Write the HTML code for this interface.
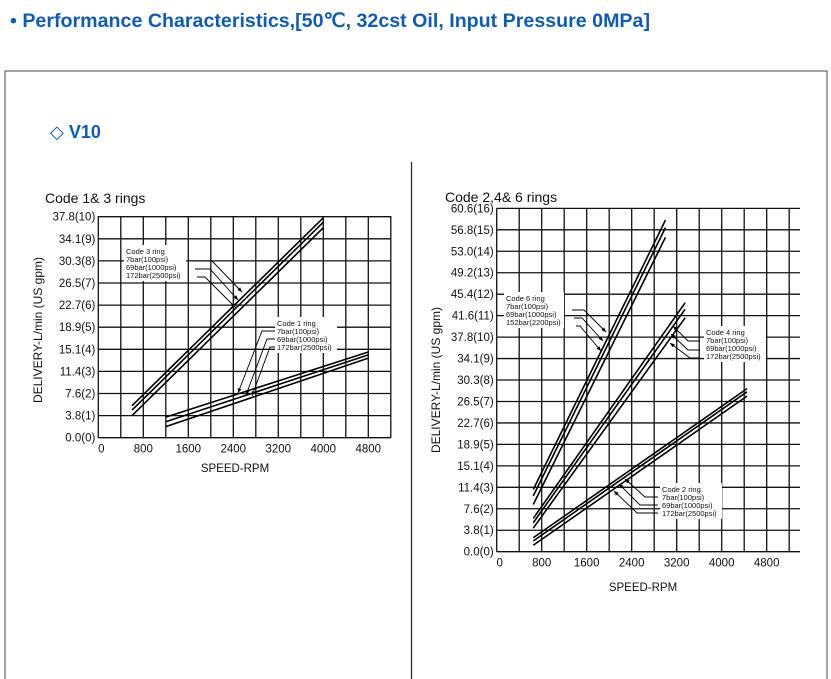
<!DOCTYPE html>
<html><head><meta charset="utf-8"><style>
html,body{margin:0;padding:0;background:#fff;width:831px;height:679px;overflow:hidden}
svg{display:block;font-family:"Liberation Sans",Arial,sans-serif}
</style></head><body>
<svg id="root" width="831" height="679" viewBox="0 0 831 679">
  <text x="10" y="27" fill="#0c5cb8" font-size="19" font-weight="bold" textLength="640" lengthAdjust="spacingAndGlyphs">• Performance Characteristics,[50℃, 32cst Oil, Input Pressure 0MPa]</text>
  <rect x="5" y="71" width="822" height="620" fill="none" stroke="#444" stroke-width="1"/>
  <text x="50" y="138" fill="#0c5cb8" font-size="18" font-weight="bold"><tspan font-weight="normal">◇</tspan> V10</text>
  <line x1="411.5" y1="162" x2="411.5" y2="679" stroke="#222" stroke-width="1.2"/>
  <g id="left"></g>
  <g id="right"></g>
</svg>
<script>
const NS="http://www.w3.org/2000/svg";
// ---- left chart data ----
const leftXTicks=[0,800,1600,2400,3200,4000,4800];
const leftYTicks=["0.0(0)","3.8(1)","7.6(2)","11.4(3)","15.1(4)","18.9(5)","22.7(6)","26.5(7)","30.3(8)","34.1(9)","37.8(10)"];
const code3Rpm=[600,4000];
const code3Top=[1.45,9.95];
const code3Mid=[1.25,9.75];
const code3Bot=[1.0,9.5];
const code1Rpm=[1200,4800];
const code1Top=[0.93,3.88];
const code1Mid=[0.72,3.75];
const code1Bot=[0.5,3.6];
// ---- right chart data ----
const rightXTicks=[0,800,1600,2400,3200,4000,4800];
const rightYTicks=["0.0(0)","3.8(1)","7.6(2)","11.4(3)","15.1(4)","18.9(5)","22.7(6)","26.5(7)","30.3(8)","34.1(9)","37.8(10)","41.6(11)","45.4(12)","49.2(13)","53.0(14)","56.8(15)","60.6(16)"];
const code6Rpm=[650,3000];
const code6Top=[2.9,15.45];
const code6Mid=[2.6,15.1];
const code6Bot=[2.2,14.65];
const code4Rpm=[650,3350];
const code4Top=[1.55,11.6];
const code4Mid=[1.35,11.3];
const code4Bot=[1.1,10.9];
const code2Rpm=[650,4450];
const code2Top=[0.65,7.6];
const code2Mid=[0.5,7.45];
const code2Bot=[0.3,7.25];

function mk(tag,attrs,parent){const e=document.createElementNS(NS,tag);for(const k in attrs)e.setAttribute(k,attrs[k]);parent.appendChild(e);return e;}

function chart(g,cfg){
  const {x0,pxPerRpm,y0,pxPerG,xEnd,yTop,maxG,yTicks,xTicks}=cfg;
  const X=r=>x0+r*pxPerRpm, Y=v=>y0-v*pxPerG;
  // grid
  for(let r=0;X(r)<=xEnd+0.5;r+=400){
    const l=mk('line',{x1:X(r),y1:yTop,x2:X(r),y2:y0,stroke:'#111','stroke-width':1.3},g);
    
    
  }
  for(let v=0;v<=maxG;v++){
    const l=mk('line',{x1:x0,y1:Y(v),x2:xEnd,y2:Y(v),stroke:'#111','stroke-width':1.3},g);
    
    
  }
  yTicks.forEach((t,i)=>{
    const e=mk('text',{x:x0-3,y:Y(i)+4,'font-size':11.5,'text-anchor':'end',fill:'#111'},g);
    e.textContent=t;
    
    
  });
  xTicks.forEach(t=>{
    const e=mk('text',{x:t===0?X(t)+3:X(t),y:y0+15,'font-size':11.5,'text-anchor':'middle',fill:'#111'},g);
    e.textContent=t;
    
    
  });
  return {X,Y};
}
function series(g,ax,rpm,vals,name){
  const l=mk('line',{x1:ax.X(rpm[0]),y1:ax.Y(vals[0]),x2:ax.X(rpm[1]),y2:ax.Y(vals[1]),stroke:'#000','stroke-width':1.6},g);
  
  
}
function txt(g,x,y,s,size,name,extra){
  const e=mk('text',Object.assign({x:x,y:y,'font-size':size,fill:'#111'},extra||{}),g);
  e.textContent=s;
  
  
  return e;
}
function legend(g,x,y,lines,name,w){
  const r=mk('rect',{x:x-2,y:y-9,width:w,height:lines.length*8+4,fill:'#fff'},g);
  
  
  lines.forEach((s,i)=>txt(g,x,y+i*8,s,7.5,name+'-line'));
}
function leader(g,pts,name){
  const p=mk('polyline',{points:pts.map(a=>a.join(',')).join(' '),fill:'none',stroke:'#000','stroke-width':0.9},g);
  
  
  const [a,b]=[pts[pts.length-2],pts[pts.length-1]];
  const ang=Math.atan2(b[1]-a[1],b[0]-a[0]);
  const h=mk('polygon',{points:[b,[b[0]-5*Math.cos(ang-0.4),b[1]-5*Math.sin(ang-0.4)],[b[0]-5*Math.cos(ang+0.4),b[1]-5*Math.sin(ang+0.4)]].map(q=>q.join(',')).join(' '),fill:'#000'},g);
  
  
}

// Left chart
const L=document.getElementById('left');
const axL=chart(L,{x0:98.3,pxPerRpm:22.5/400,y0:437.7,pxPerG:22.1,xEnd:390.8,yTop:216,maxG:10,yTicks:leftYTicks,xTicks:leftXTicks});
series(L,axL,code3Rpm,code3Top,'code3-7bar-line');
series(L,axL,code3Rpm,code3Mid,'code3-69bar-line');
series(L,axL,code3Rpm,code3Bot,'code3-172bar-line');
series(L,axL,code1Rpm,code1Top,'code1-7bar-line');
series(L,axL,code1Rpm,code1Mid,'code1-69bar-line');
series(L,axL,code1Rpm,code1Bot,'code1-172bar-line');
txt(L,45,203,'Code 1& 3 rings',14,'left-chart-title');
txt(L,235,472,'SPEED-RPM',11.5,'left-x-axis-title',{'text-anchor':'middle'});
txt(L,0,0,'DELIVERY-L/min (US gpm)',12,'left-y-axis-title',{'text-anchor':'middle',transform:'translate(42,330) rotate(-90)'});
legend(L,126,254,['Code 3 ring','7bar(100psi)','69bar(1000psi)','172bar(2500psi)'],'code3-legend',62);
leader(L,[[192,261],[212,261],[242,292]],'code3-leader-7bar');
leader(L,[[195,269],[210,269],[238,300]],'code3-leader-69bar');
leader(L,[[197,277],[205,277],[236,308]],'code3-leader-172bar');
legend(L,277,326,['Code 1 ring','7bar(100psi)','69bar(1000psi)','172bar(2500psi)'],'code1-legend',62);
leader(L,[[275,331],[262,331],[238,393]],'code1-leader-7bar');
leader(L,[[275,339],[267,339],[246,395]],'code1-leader-69bar');
leader(L,[[275,347],[270,347],[252,396]],'code1-leader-172bar');

// Right chart
const R=document.getElementById('right');
const axR=chart(R,{x0:496.7,pxPerRpm:22.5/400,y0:551.7,pxPerG:21.46,xEnd:800,yTop:208.3,maxG:16,yTicks:rightYTicks,xTicks:rightXTicks});
[[code6Rpm,code6Top,'code6-7bar-line'],[code6Rpm,code6Mid,'code6-69bar-line'],[code6Rpm,code6Bot,'code6-152bar-line'],
 [code4Rpm,code4Top,'code4-7bar-line'],[code4Rpm,code4Mid,'code4-69bar-line'],[code4Rpm,code4Bot,'code4-172bar-line'],
 [code2Rpm,code2Top,'code2-7bar-line'],[code2Rpm,code2Mid,'code2-69bar-line'],[code2Rpm,code2Bot,'code2-172bar-line']]
 .forEach(s=>series(R,axR,s[0],s[1],s[2]));
txt(R,445,202,'Code 2,4& 6 rings',14,'right-chart-title');
txt(R,643,591,'SPEED-RPM',11.5,'right-x-axis-title',{'text-anchor':'middle'});
txt(R,0,0,'DELIVERY-L/min (US gpm)',12,'right-y-axis-title',{'text-anchor':'middle',transform:'translate(440,380) rotate(-90)'});
legend(R,506,301,['Code 6 ring','7bar(100psi)','69bar(1000psi)','152bar(2200psi)'],'code6-legend',60);
leader(R,[[572,310],[584,310],[606,332]],'code6-leader-7bar');
leader(R,[[574,318],[582,318],[603,341]],'code6-leader-69bar');
leader(R,[[576,326],[580,326],[601,351]],'code6-leader-152bar');
legend(R,706,335,['Code 4 ring','7bar(100psi)','69bar(1000psi)','172bar(2500psi)'],'code4-legend',62);
leader(R,[[700,341],[688,341],[673,326]],'code4-leader-7bar');
leader(R,[[700,350],[688,350],[671,334]],'code4-leader-69bar');
leader(R,[[700,358],[690,358],[670,343]],'code4-leader-172bar');
legend(R,662,492,['Code 2 ring','7bar(100psi)','69bar(1000psi)','172bar(2500psi)'],'code2-legend',62);
leader(R,[[658,497],[645,497],[625,479]],'code2-leader-7bar');
leader(R,[[658,505],[640,505],[619,484]],'code2-leader-69bar');
leader(R,[[658,513],[637,513],[614,491]],'code2-leader-172bar');
</script>
</body></html>
